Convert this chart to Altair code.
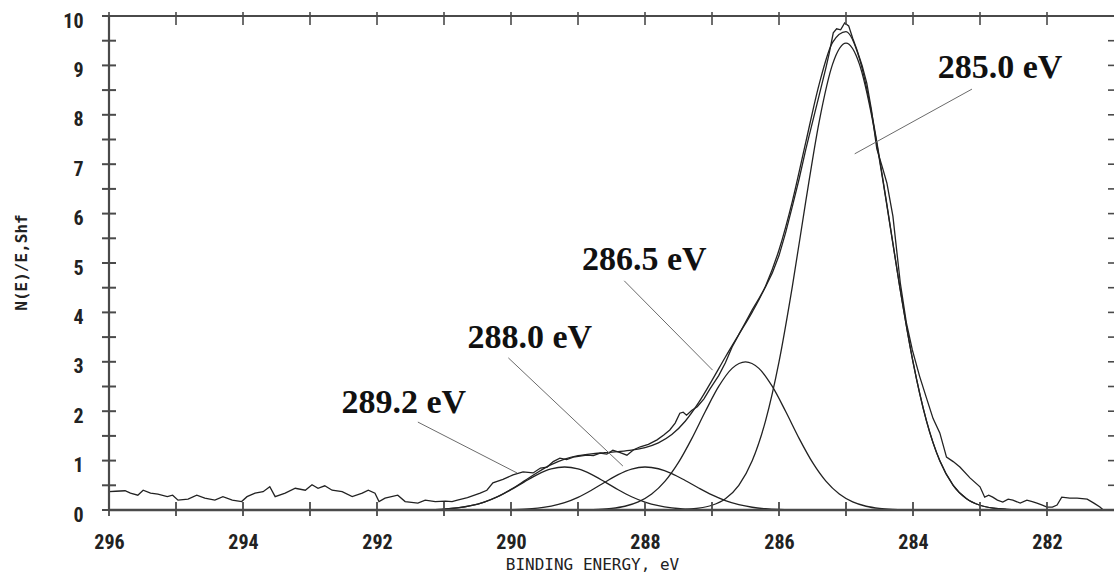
import altair as alt
import pandas as pd

# ---------------- C 1s spectrum: measured trace ----------------
exp_energy = [
    296.00, 295.90, 295.76, 295.68, 295.57, 295.49, 295.38, 295.27, 295.13, 295.05,
    294.97, 294.82, 294.69, 294.57, 294.42, 294.30, 294.16, 294.02, 293.94, 293.82,
    293.70, 293.60, 293.52, 293.37, 293.22, 293.07, 292.97, 292.88, 292.78, 292.67,
    292.52, 292.37, 292.22, 292.13, 292.03, 291.97, 291.88, 291.69, 291.58, 291.39,
    291.28, 291.13, 290.98, 290.88, 290.80, 290.65, 290.46, 290.36, 290.27, 290.12,
    289.97, 289.82, 289.67, 289.56, 289.46, 289.37, 289.27, 289.17, 289.07, 288.97,
    288.87, 288.77, 288.67, 288.57, 288.48, 288.37, 288.27, 288.17, 288.07, 287.95,
    287.82, 287.72, 287.63, 287.55, 287.48, 287.43, 287.38, 287.30, 287.22, 287.12,
    287.03, 286.90, 286.80, 286.70, 286.60, 286.50, 286.40, 286.30, 286.20, 286.10,
    286.00, 285.90, 285.80, 285.70, 285.60, 285.50, 285.40, 285.30, 285.25, 285.19,
    285.14, 285.08, 285.02, 284.96, 284.90, 284.84, 284.76, 284.69, 284.62, 284.54,
    284.46, 284.39, 284.30, 284.19, 284.10, 284.01, 283.90, 283.79, 283.70, 283.60,
    283.50, 283.40, 283.30, 283.15, 283.00, 282.93, 282.87, 282.81, 282.74, 282.66,
    282.58, 282.51, 282.40, 282.30, 282.22, 282.15, 282.07, 282.00, 281.92, 281.85,
    281.78, 281.72, 281.66, 281.55, 281.40, 281.30, 281.21, 281.16,
]
exp_counts = [
    0.37, 0.38, 0.39, 0.34, 0.30, 0.40, 0.34, 0.32, 0.27, 0.30,
    0.20, 0.22, 0.30, 0.24, 0.20, 0.27, 0.20, 0.17, 0.27, 0.34,
    0.37, 0.47, 0.27, 0.34, 0.44, 0.40, 0.51, 0.44, 0.49, 0.40,
    0.37, 0.27, 0.34, 0.40, 0.34, 0.17, 0.24, 0.30, 0.17, 0.14,
    0.20, 0.17, 0.18, 0.17, 0.20, 0.25, 0.34, 0.40, 0.55, 0.62,
    0.71, 0.77, 0.75, 0.85, 0.87, 0.98, 1.05, 1.02, 1.07, 1.09,
    1.11, 1.10, 1.15, 1.13, 1.21, 1.16, 1.11, 1.22, 1.28, 1.33,
    1.42, 1.52, 1.62, 1.76, 1.96, 1.98, 1.92, 2.02, 2.09, 2.25,
    2.45, 2.72, 2.98, 3.30, 3.55, 3.80, 4.05, 4.28, 4.52, 4.80,
    5.15, 5.62, 6.15, 6.70, 7.30, 7.85, 8.40, 8.95, 9.25, 9.66,
    9.74, 9.72, 9.86, 9.80, 9.55, 9.33, 9.00, 8.64, 8.10, 7.31,
    6.95, 6.62, 5.95, 4.60, 3.80, 3.24, 2.70, 2.23, 1.85, 1.56,
    1.07, 0.98, 0.87, 0.65, 0.47, 0.26, 0.30, 0.26, 0.20, 0.16,
    0.22, 0.20, 0.14, 0.20, 0.17, 0.14, 0.10, 0.06, 0.06, 0.10,
    0.26, 0.25, 0.24, 0.24, 0.22, 0.14, 0.06, 0.00,
]

# ---------------- fitted envelope ----------------
fit_energy = [
    291.6, 291.4, 291.2, 291.0, 290.8, 290.6, 290.4, 290.2, 290.0, 289.8,
    289.6, 289.4, 289.2, 289.0, 288.8, 288.6, 288.4, 288.2, 288.0, 287.8,
    287.6, 287.4, 287.2, 287.0, 286.8, 286.6, 286.4, 286.2, 286.0, 285.8,
    285.6, 285.4, 285.2, 285.0, 284.8, 284.6, 284.4, 284.2, 284.0, 283.8,
    283.6, 283.4, 283.2, 283.0, 282.8, 282.6, 282.4,
]
fit_counts = [
    0.001, 0.003, 0.008, 0.019, 0.043, 0.087, 0.161, 0.271, 0.418, 0.589,
    0.764, 0.917, 1.031, 1.100, 1.138, 1.160, 1.181, 1.210, 1.263, 1.358,
    1.526, 1.797, 2.173, 2.625, 3.098, 3.553, 4.005, 4.536, 5.264, 6.254,
    7.447, 8.622, 9.466, 9.683, 9.138, 7.914, 6.271, 4.539, 3.000, 1.810,
    0.996, 0.500, 0.229, 0.096, 0.036, 0.013, 0.004,
]

# ---------------- fitted components (binding energy of each peak) ----------------
peak_centers = [289.2, 288.0, 286.5, 285.0]

comp_289_energy = [
    291.6, 291.4, 291.2, 291.0, 290.8, 290.6, 290.4, 290.2, 290.0, 289.8, 289.6, 289.4,
    289.2, 289.0, 288.8, 288.6, 288.4, 288.2, 288.0, 287.8, 287.6, 287.4, 287.2, 287.0, 286.8,
]
comp_289_counts = [
    0.001, 0.003, 0.008, 0.019, 0.043, 0.087, 0.160, 0.268, 0.410, 0.570, 0.721, 0.830,
    0.870, 0.830, 0.721, 0.570, 0.410, 0.268, 0.160, 0.087, 0.043, 0.019, 0.008, 0.003, 0.001,
]

comp_288_energy = [
    290.4, 290.2, 290.0, 289.8, 289.6, 289.4, 289.2, 289.0, 288.8, 288.6, 288.4, 288.2,
    288.0, 287.8, 287.6, 287.4, 287.2, 287.0, 286.8, 286.6, 286.4, 286.2, 286.0, 285.8, 285.6,
]
comp_288_counts = [
    0.001, 0.002, 0.006, 0.015, 0.036, 0.078, 0.148, 0.255, 0.400, 0.562, 0.716, 0.828,
    0.870, 0.835, 0.738, 0.598, 0.446, 0.305, 0.190, 0.108, 0.056, 0.027, 0.012, 0.005, 0.002,
]

comp_286_energy = [
    289.1, 288.9, 288.7, 288.5, 288.3, 288.1, 287.9, 287.7, 287.5, 287.3, 287.1, 286.9, 286.7,
    286.5, 286.3, 286.1, 285.9, 285.7, 285.5, 285.3, 285.1, 284.9, 284.7, 284.5, 284.3, 284.1, 283.9,
]
comp_286_counts = [
    0.001, 0.004, 0.012, 0.032, 0.076, 0.164, 0.323, 0.584, 0.963, 1.450, 1.993, 2.501, 2.867,
    3.000, 2.867, 2.501, 1.993, 1.450, 0.963, 0.584, 0.323, 0.164, 0.076, 0.032, 0.012, 0.004, 0.001,
]

comp_285_energy = [
    287.8, 287.6, 287.4, 287.2, 287.0, 286.8, 286.6, 286.4, 286.2, 286.0, 285.8, 285.6, 285.4, 285.2,
    285.0, 284.8, 284.6, 284.4, 284.2, 284.0, 283.8, 283.6, 283.4, 283.2, 283.0, 282.8, 282.6, 282.4, 282.2,
]
comp_285_counts = [
    0.001, 0.004, 0.013, 0.036, 0.096, 0.229, 0.500, 0.996, 1.809, 2.998, 4.532, 6.251, 7.864, 9.026,
    9.450, 9.026, 7.864, 6.251, 4.532, 2.998, 1.809, 0.996, 0.500, 0.229, 0.096, 0.036, 0.013, 0.004, 0.001,
]

# ---------------- peak annotations and their leader lines ----------------
label_energy = [291.60, 289.72, 288.01, 282.70]
label_value = [2.17, 3.48, 5.06, 8.95]
leader_from_energy = [291.39, 290.04, 288.31, 283.12]
leader_from_value = [1.78, 3.08, 4.64, 8.52]
leader_to_energy = [289.91, 288.33, 286.99, 284.87]
leader_to_value = [0.75, 0.89, 2.83, 7.21]

# ---------------- axis ticks ----------------
x_label_values = [296, 294, 292, 290, 288, 286, 284, 282]
x_tick_values = [296, 295, 294, 293, 292, 291, 290, 289, 288, 287, 286, 285, 284, 283, 282]
y_label_values = [0, 1, 2, 3, 4, 5, 6, 7, 8, 9, 10]
y_tick_values = [0, 0.5, 1, 1.5, 2, 2.5, 3, 3.5, 4, 4.5, 5, 5.5, 6, 6.5, 7, 7.5, 8, 8.5,
                 9, 9.5, 10]

W, H = 1005, 494
INK = "#222222"
TICK_FONT = "Roboto Condensed, Roboto, Liberation Sans, sans-serif"
MONO_FONT = "DejaVu Sans Mono, Liberation Mono, monospace"

# ---------------- tables ----------------
spectrum = pd.DataFrame({"energy": exp_energy, "counts": exp_counts})
envelope = pd.DataFrame({"energy": fit_energy, "counts": fit_counts})

comp_sets = [
    (comp_289_energy, comp_289_counts),
    (comp_288_energy, comp_288_counts),
    (comp_286_energy, comp_286_counts),
    (comp_285_energy, comp_285_counts),
]
rows = []
for center, (en, ct) in zip(peak_centers, comp_sets):
    for e, c in zip(en, ct):
        rows.append({"peak": f"{center:.1f} eV", "energy": e, "counts": c})
components = pd.DataFrame(rows)

labels = pd.DataFrame({
    "text": [f"{c:.1f} eV" for c in peak_centers],
    "energy": label_energy,
    "counts": label_value,
})
leaders = pd.DataFrame({
    "energy": leader_from_energy, "counts": leader_from_value,
    "e2": leader_to_energy, "v2": leader_to_value,
})
xticks = pd.DataFrame({"energy": x_tick_values})
yticks = pd.DataFrame({"counts": y_tick_values})
one = pd.DataFrame({"k": [0]})

x_scale = alt.Scale(domain=[281, 296], reverse=True, nice=False, zero=False)
y_scale = alt.Scale(domain=[0, 10], nice=False, zero=False)

x_axis = alt.Axis(
    values=x_label_values, format="d", ticks=False, domain=False, grid=False,
    labelFont=TICK_FONT, labelFontSize=20, labelFontWeight="bold", labelColor=INK,
    labelPadding=22, labelFlush=False,
    title="BINDING ENERGY, eV", titleFont=MONO_FONT, titleFontSize=16,
    titleFontWeight="normal", titleColor=INK, titleX=483, titleY=59,
    titleAlign="center", titleBaseline="alphabetic",
)
y_axis = alt.Axis(
    values=y_label_values, format="d", ticks=False, domain=False, grid=False,
    labelFont=TICK_FONT, labelFontSize=20, labelFontWeight="bold", labelColor=INK,
    labelPadding=26, labelOffset=5,
    title="N(E)/E,Shf", titleFont=MONO_FONT, titleFontSize=16,
    titleFontWeight="bold", titleColor=INK, titleAngle=270, titleX=-88, titleY=246,
    titleAlign="center", titleBaseline="middle",
)

X = alt.X("energy:Q", scale=x_scale, axis=x_axis)
Y = alt.Y("counts:Q", scale=y_scale, axis=y_axis)

comp_layer = alt.Chart(components).mark_line(
    color=INK, strokeWidth=1.3, interpolate="monotone"
).encode(x=X, y=Y, detail="peak:N")

env_layer = alt.Chart(envelope).mark_line(
    color=INK, strokeWidth=1.3, interpolate="monotone"
).encode(x=X, y=Y)

exp_layer = alt.Chart(spectrum).mark_line(
    color=INK, strokeWidth=1.3
).encode(x=X, y=Y)

leader_layer = alt.Chart(leaders).mark_rule(color="#6b6b6b", strokeWidth=1).encode(
    x=X, y=Y, x2="e2:Q", y2="v2:Q",
)

label_layer = alt.Chart(labels).mark_text(
    font="Liberation Serif, Times New Roman, serif", fontSize=34, fontWeight="bold",
    align="center", baseline="middle", color="#111111",
).encode(x=X, y=Y, text="text:N")

# frame: left axis, bottom axis, top edge
frame_color = "#4a4a4a"
left_line = alt.Chart(one).mark_rule(color=frame_color, strokeWidth=2.2).encode(
    x=alt.value(0), y=alt.value(0), y2=alt.value(H))
bottom_line = alt.Chart(one).mark_rule(color=frame_color, strokeWidth=2.6).encode(
    y=alt.value(H), x=alt.value(0), x2=alt.value(W))
top_line = alt.Chart(one).mark_rule(color=frame_color, strokeWidth=2.0).encode(
    y=alt.value(0), x=alt.value(0), x2=alt.value(W))

# tick marks crossing the axes
left_ticks = alt.Chart(yticks).mark_rule(color=frame_color, strokeWidth=2).encode(
    y=Y, x=alt.value(-7), x2=alt.value(7))
right_ticks = alt.Chart(yticks).mark_rule(color=frame_color, strokeWidth=1.6).encode(
    y=Y, x=alt.value(W - 6), x2=alt.value(W))
bottom_ticks = alt.Chart(xticks).mark_rule(color=frame_color, strokeWidth=1.8).encode(
    x=X, y=alt.value(H - 8), y2=alt.value(H + 6))
top_ticks = alt.Chart(xticks).mark_rule(color=frame_color, strokeWidth=1.6).encode(
    x=X, y=alt.value(-4), y2=alt.value(9))

chart = alt.layer(
    comp_layer, env_layer, exp_layer, leader_layer, label_layer,
    left_line, bottom_line, top_line, left_ticks, right_ticks, bottom_ticks, top_ticks,
).properties(
    width=W, height=H,
    padding={"left": 109, "top": 16, "right": 0, "bottom": 63},
    autosize=alt.AutoSizeParams(type="none"),
    background="white",
).configure_view(stroke=None)

chart.save("out.html", embed_options={"renderer": "svg", "actions": False})
